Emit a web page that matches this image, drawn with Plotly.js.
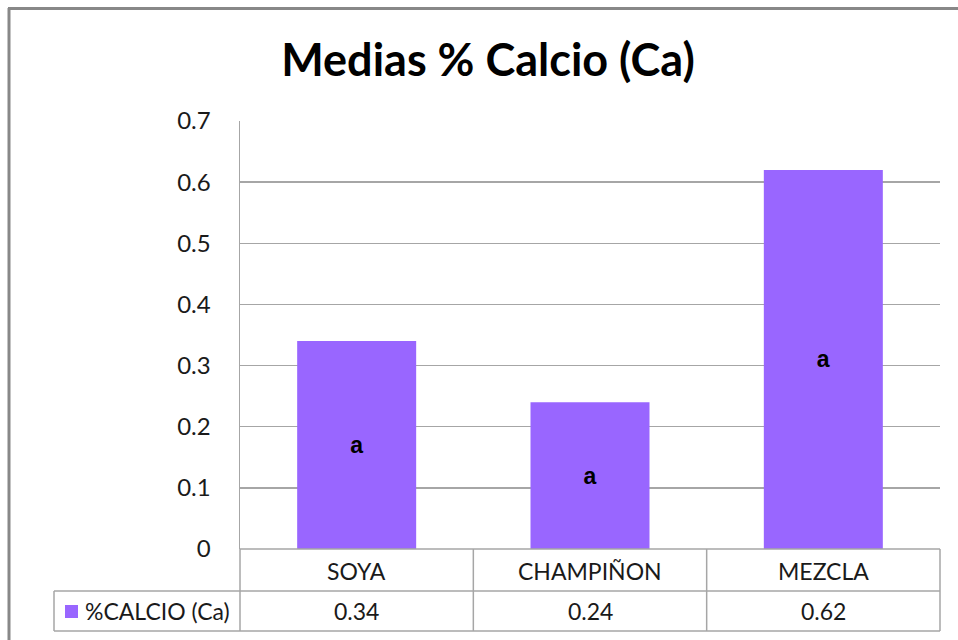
<!DOCTYPE html>
<html>
<head>
<meta charset="utf-8">
<script src="https://cdn.plot.ly/plotly-3.0.1.min.js"></script>
<style>html,body{margin:0;padding:0;background:#fff;}#chart{width:958px;height:640px;}</style>
</head>
<body>
<div id="chart"></div>
<script>
const categories = ["SOYA", "CHAMPIÑON", "MEZCLA"];
const calcioValues = [0.34, 0.24, 0.62];
const valueLabels = ["0.34", "0.24", "0.62"];
const groupLetters = ["a", "a", "a"];
const seriesName = "%CALCIO (Ca)";
const yTicks = [0, 0.1, 0.2, 0.3, 0.4, 0.5, 0.6, 0.7];
const yTickText = ["0", "0.1", "0.2", "0.3", "0.4", "0.5", "0.6", "0.7"];

const W = 958, H = 640, L = 240, R = 18, T = 121, B = 91;
const PW = W - L - R, PH = H - T - B;
const px = X => (X - L) / PW;
const py = Y => (H - B - Y) / PH;

const barColor = "#9966FF";
const lineColor = "#A6A6A6";
const font = "Lato, 'Noto Sans', sans-serif";
const textColor = "#1a1a1a";

const trace = {
  type: "bar",
  x: categories,
  y: calcioValues,
  name: seriesName,
  marker: {color: barColor},
  text: groupLetters,
  textposition: "inside",
  insidetextanchor: "middle",
  textangle: 0,
  textfont: {family: "'Liberation Sans', Arial, sans-serif", size: 23, color: "#000", weight: "bold"},
  hoverinfo: "none"
};

const shapes = [];
const line = (x0, y0, x1, y1, xref, color, w) => shapes.push({
  type: "line", xref: xref || "paper", yref: "paper", x0, y0, x1, y1,
  line: {color: color || lineColor, width: w || 1.5}, layer: "above"
});
// table horizontal lines
line(0, 0, 1, 0);
line(px(54), py(591), 1, py(591));
line(px(54), py(631), 1, py(631));
// table vertical lines
line(0, 0, 0, py(631));
line(1, 0, 1, py(631));
line(0.5, 0, 0.5, py(631), "x");
line(1.5, 0, 1.5, py(631), "x");
line(px(54), py(591), px(54), py(631));
// legend key square
shapes.push({type: "rect", xref: "paper", yref: "paper",
  x0: px(65), x1: px(78), y0: py(618), y1: py(605),
  fillcolor: barColor, line: {width: 0}});
// outer chart border
line(px(8), py(8.5), px(960), py(8.5), "paper", "#888888", 3);
line(px(9), py(8), px(9), py(642), "paper", "#888888", 3);

const annotations = [];
categories.forEach((c, i) => {
  annotations.push({xref: "x", yref: "paper", x: c, y: py(571), text: c, showarrow: false,
    font: {family: font, size: 23, color: textColor}, xanchor: "center", yanchor: "middle"});
  annotations.push({xref: "x", yref: "paper", x: c, y: py(611), text: valueLabels[i], showarrow: false,
    font: {family: font, size: 23, color: textColor}, xanchor: "center", yanchor: "middle"});
});
annotations.push({xref: "paper", yref: "paper", x: px(83), y: py(611), text: seriesName, showarrow: false,
  font: {family: font, size: 23, color: textColor}, xanchor: "left", yanchor: "middle"});

const layout = {
  width: W, height: H,
  margin: {l: L, r: R, t: T, b: B, pad: 0},
  paper_bgcolor: "#fff", plot_bgcolor: "#fff",
  showlegend: false,
  bargap: 0.49,
  title: {text: "<b>Medias % Calcio (Ca)</b>", x: 488 / W, xanchor: "center", xref: "container",
    y: 1 - 60 / H, yanchor: "middle", yref: "container",
    font: {family: font, size: 45, color: "#000"}},
  xaxis: {type: "category", range: [-0.5, 2.5], showticklabels: false, showgrid: false,
    zeroline: false, showline: false, ticks: "", fixedrange: true},
  yaxis: {range: [0, 0.7], tickvals: yTicks, ticktext: yTickText, showgrid: true,
    gridcolor: lineColor, gridwidth: 1.5, zeroline: false, showline: true, linecolor: lineColor,
    linewidth: 1.5, ticks: "outside", ticklen: 0, ticklabelstandoff: 23,
    tickfont: {family: font, size: 24, color: textColor}, fixedrange: true},
  shapes, annotations
};

Plotly.newPlot("chart", [trace], layout, {displayModeBar: false, staticPlot: true});
</script>
</body>
</html>
